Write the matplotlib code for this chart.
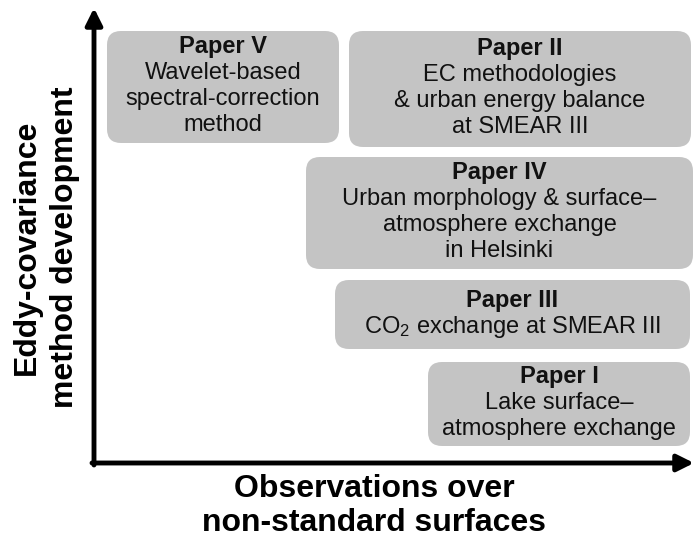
import matplotlib.pyplot as plt
from matplotlib.patches import FancyBboxPatch

plt.rcParams['font.family'] = ['Liberation Sans', 'DejaVu Sans']
plt.rcParams['mathtext.default'] = 'regular'

# paper boxes (pixel-like diagram coordinates, y grows downward)
titles = ['Paper V', 'Paper II', 'Paper IV', 'Paper III', 'Paper I']
texts = [
  'Wavelet-based\nspectral-correction\nmethod',
  'EC methodologies\n& urban energy balance\nat SMEAR III',
  'Urban morphology & surface\u2013\natmosphere exchange\nin Helsinki',
  'CO$_2$ exchange at SMEAR III',
  'Lake surface\u2013\natmosphere exchange',
]
x0 = [107, 349, 306, 335, 428]
x1 = [339, 691, 693, 690, 690]
y0 = [31, 31, 157, 280, 362]
y1 = [143, 147, 269, 349, 446]

xlabel = 'Observations over\nnon-standard surfaces'
ylabel = 'Eddy-covariance\nmethod development'

fig = plt.figure(figsize=(6.94, 5.41), dpi=100)
ax = fig.add_axes([0, 0, 1, 1])
ax.set_xlim(0, 694)
ax.set_ylim(541, 0)
ax.axis('off')

for t, s, a, b, c, d in zip(titles, texts, x0, x1, y0, y1):
  r = 14
  box = FancyBboxPatch((a + r, c + r), b - a - 2 * r, d - c - 2 * r,
                       boxstyle='round,pad=%d' % r,
                       facecolor='#c4c4c4', edgecolor='none')
  ax.add_patch(box)
  xc = (a + b) / 2
  nlines = s.count('\n') + 2
  lh = 26
  ytop = (c + d) / 2 - (nlines - 1) * lh / 2 - 1
  ax.text(xc, ytop, t, ha='center', va='center', fontsize=17,
          fontweight='bold', color='#111111')
  for i, line in enumerate(s.split('\n')):
    ax.text(xc, ytop + (i + 1) * lh, line, ha='center', va='center',
            fontsize=17, color='#111111')

# axis arrows
ax.annotate('', xy=(94, 8), xytext=(94, 465),
            arrowprops=dict(arrowstyle='-|>,head_length=1.0,head_width=0.5',
                            lw=3.5, color='black', shrinkA=0, shrinkB=0))
ax.annotate('', xy=(694, 463), xytext=(92, 463),
            arrowprops=dict(arrowstyle='-|>,head_length=1.0,head_width=0.5',
                            lw=3.5, color='black', shrinkA=0, shrinkB=0))

ax.text(374, 506, xlabel, ha='center', va='center', fontsize=23,
        fontweight='bold', linespacing=1.2)
ax.text(46, 247, ylabel, ha='center', va='center', fontsize=23,
        fontweight='bold', rotation=90, linespacing=1.35)

fig.savefig('out.png', dpi=100)
